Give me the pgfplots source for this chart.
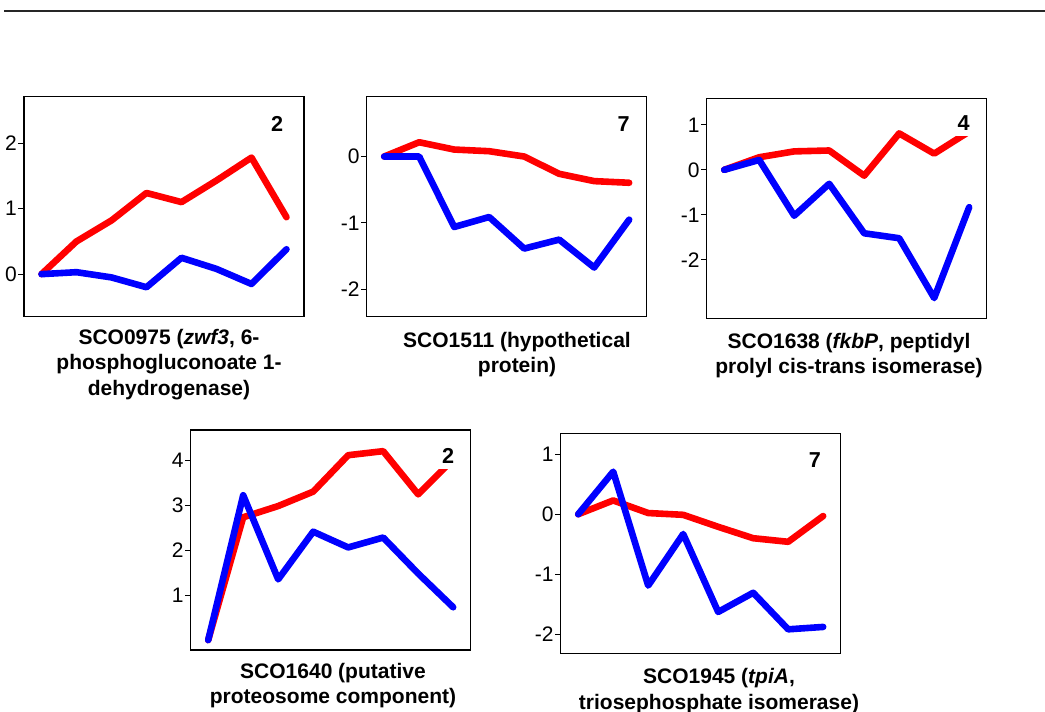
\documentclass[border=0pt]{standalone}
\usepackage{pgfplots}
\pgfplotsset{compat=1.18}
\usepackage{fontspec}
\setmainfont{Liberation Sans}

\definecolor{lred}{RGB}{255,0,0}
\definecolor{lblue}{RGB}{0,0,255}

\pgfplotsset{
  panel/.style={
    scale only axis, width=140pt, height=110pt, anchor=south west,
    xmin=-0.5, xmax=7.5, xtick=\empty,
    axis line style={line width=0.6pt},
    tick align=outside, ytick pos=left, major tick length=2.8pt,
    tick style={line width=0.5pt, black},
    yticklabel style={font=\fontsize{10.5}{12}\selectfont, inner sep=0.6pt},
    every axis plot/.append style={line width=3.3pt, line join=round, line cap=round, mark=none},
  },
}
\newcommand{\clusterlabel}[3]{%
  \node[fill=white, inner sep=2.8pt, font=\fontsize{10.8}{12}\selectfont\bfseries] at (rel axis cs:#1,#2) {#3};}
% anchor=base of a multi-line node sits on its last line
\tikzset{ttl/.style={anchor=base, align=center, inner sep=0pt,
  font=\fontsize{10.5}{12.75}\selectfont\bfseries}}

\begin{document}
\begin{tikzpicture}
\path[use as bounding box] (0pt,0pt) rectangle (522.5pt,-356pt);
\draw[line width=1.25pt, black!85] (2pt,-5.5pt) -- (522.5pt,-5.5pt);

% SCO0975
\begin{axis}[panel, at={(12pt,-158.35pt)}, ymin=-0.65, ymax=2.71,
  ytick={0,1,2}, yticklabels={0,1,2}]
\addplot[lred] coordinates {(0,0) (1,0.50) (2,0.82) (3,1.24) (4,1.10) (5,1.43) (6,1.78) (7,0.87)};
\addplot[lblue] coordinates {(0,0) (1,0.03) (2,-0.05) (3,-0.20) (4,0.25) (5,0.08) (6,-0.15) (7,0.38)};
\clusterlabel{0.904}{0.877}{2}
\end{axis}

% SCO1511
\begin{axis}[panel, at={(183.35pt,-158.35pt)}, ymin=-2.41, ymax=0.9,
  ytick={-2,-1,0}, yticklabels={-2,-1,0}]
\addplot[lred] coordinates {(0,0) (1,0.215) (2,0.105) (3,0.08) (4,0) (5,-0.26) (6,-0.37) (7,-0.395)};
\addplot[lblue] coordinates {(0,0) (1,0) (2,-1.06) (3,-0.91) (4,-1.385) (5,-1.25) (6,-1.67) (7,-0.95)};
\clusterlabel{0.918}{0.877}{7}
\end{axis}

% SCO1638
\begin{axis}[panel, at={(353.35pt,-159.15pt)}, ymin=-3.3, ymax=1.59,
  ytick={-2,-1,0,1}, yticklabels={-2,-1,0,1}]
\addplot[lred] coordinates {(0,0) (1,0.28) (2,0.41) (3,0.43) (4,-0.13) (5,0.81) (6,0.36) (7,0.85)};
\addplot[lblue] coordinates {(0,0) (1,0.22) (2,-1.02) (3,-0.31) (4,-1.41) (5,-1.52) (6,-2.85) (7,-0.83)};
\clusterlabel{0.918}{0.889}{4}
\end{axis}

% SCO1640
\begin{axis}[panel, at={(95.35pt,-325pt)}, ymin=-0.22, ymax=4.67,
  ytick={1,2,3,4}, yticklabels={1,2,3,4}]
\addplot[lred] coordinates {(0,0) (1,2.73) (2,2.98) (3,3.30) (4,4.11) (5,4.20) (6,3.24) (7,4.02)};
\addplot[lblue] coordinates {(0,0) (1,3.22) (2,1.35) (3,2.41) (4,2.06) (5,2.28) (6,1.48) (7,0.73)};
\clusterlabel{0.919}{0.882}{2}
\end{axis}

% SCO1945
\begin{axis}[panel, at={(280.35pt,-326.65pt)}, ymin=-2.32, ymax=1.35,
  ytick={-2,-1,0,1}, yticklabels={-2,-1,0,1}]
\addplot[lred] coordinates {(0,0) (1,0.23) (2,0.02) (3,-0.01) (4,-0.21) (5,-0.40) (6,-0.46) (7,-0.03)};
\addplot[lblue] coordinates {(0,0) (1,0.71) (2,-1.19) (3,-0.33) (4,-1.63) (5,-1.31) (6,-1.92) (7,-1.88)};
\clusterlabel{0.908}{0.879}{7}
\end{axis}

\node[ttl] at (84.5pt,-197.5pt) {SCO0975 (\textit{zwf3}, 6-\\phosphogluconoate 1-\\dehydrogenase)};
\node[ttl] at (258.5pt,-186.25pt) {SCO1511 (hypothetical\\protein)};
\node[ttl] at (424.5pt,-186.75pt) {SCO1638 (\textit{fkbP}, peptidyl\\prolyl cis-trans isomerase)};
\node[ttl] at (166.5pt,-351.75pt) {SCO1640 (putative\\proteosome component)};
\node[ttl] at (359.5pt,-354.5pt) {SCO1945 (\textit{tpiA},\\triosephosphate isomerase)};
\end{tikzpicture}
\end{document}
